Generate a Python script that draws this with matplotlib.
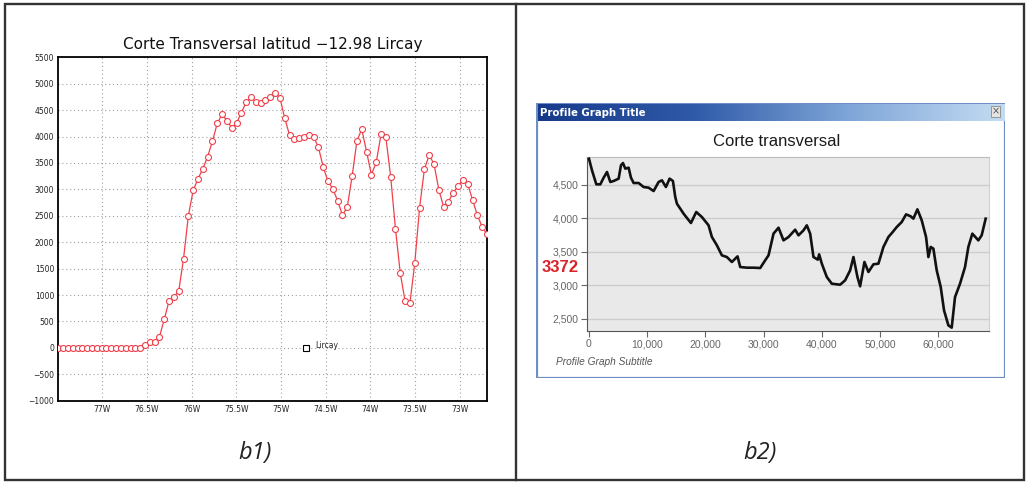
import numpy as np
import matplotlib
matplotlib.use('Agg')
import matplotlib.pyplot as plt
from matplotlib.patches import Rectangle
from matplotlib.colors import LinearSegmentedColormap

# ---------------- data ----------------
# Left panel (b1): cross-section at latitude -12.98, regular longitude grid
lon_start, lon_end, n_pts = -77.493, -72.694, 90
elev_b1 = [0] * 18 + [
    55, 120, 120, 210, 540, 890, 970, 1070, 1690, 2500,
    2980, 3200, 3390, 3620, 3910, 4250, 4420, 4300, 4170, 4250,
    4450, 4650, 4740, 4660, 4630, 4690, 4755, 4825, 4735, 4350,
    4030, 3950, 3980, 3990, 4020, 3990, 3800, 3420, 3150, 3010,
    2780, 2510, 2670, 3250, 3920, 4140, 3710, 3280, 3510, 4040,
    3990, 3240, 2250, 1410, 880, 850, 1600, 2650, 3380, 3650,
    3480, 2990, 2670, 2770, 2940, 3060, 3180, 3100, 2800, 2510,
    2290, 2150]
lon_ticks = [-77, -76.5, -76, -75.5, -75, -74.5, -74, -73.5, -73]
lon_labels = ['77W', '76.5W', '76W', '75.5W', '75W', '74.5W', '74W', '73.5W', '73W']
elev_ticks = list(range(-1000, 5501, 500))
lircay_b1 = (-74.72, 0)

# Right panel (b2): profile graph, distance (m) vs elevation (m)
dist_b2 = [0, 515, 1258, 1945, 2517, 3089, 3661, 4233, 5091, 5491, 5834, 6234, 6806,
           7207, 7665, 8523, 9381, 10239, 11097, 11955, 12527, 13214, 13843, 14415,
           14816, 15102, 16246, 17505, 18420, 19392, 20536, 21108, 21966, 22824,
           23682, 24540, 25513, 25971, 27115, 28259, 29403, 30261, 30833, 31691,
           32549, 33407, 34265, 35409, 35981, 36839, 37411, 37983, 38555, 39299,
           39528, 39985, 40843, 41701, 43131, 43989, 44847, 45419, 46105, 46563,
           47307, 47993, 48851, 49709, 50567, 51425, 52169, 52855, 53713, 54457,
           55258, 55716, 56402, 57146, 57889, 58290, 58690, 59148, 59720, 60406,
           60978, 61722, 62294, 62866, 63724, 64582, 65154, 65840, 66870, 67442, 68128]
elev_b2 = [4888, 4714, 4505, 4505, 4604, 4689, 4540, 4555, 4590, 4789, 4823, 4739, 4754,
           4604, 4525, 4525, 4465, 4455, 4405, 4540, 4565, 4465, 4590, 4555,
           4316, 4216, 4067, 3928, 4092, 4017, 3893, 3719, 3595, 3445,
           3420, 3346, 3430, 3271, 3261, 3261, 3256, 3371, 3445, 3769,
           3858, 3669, 3719, 3828, 3744, 3818, 3893, 3769, 3420, 3381,
           3460, 3321, 3122, 3022, 3007, 3072, 3221, 3420, 3122, 2983,
           3346, 3197, 3311, 3321, 3570, 3719, 3794, 3868, 3943, 4057,
           4027, 3993, 4132, 3968, 3719, 3420, 3570, 3545, 3221, 2973,
           2624, 2400, 2366, 2823, 3022, 3271, 3570, 3769, 3669, 3744, 3993]
dist_ticks = [0, 10000, 20000, 30000, 40000, 50000, 60000]
dist_labels = ['0', '10,000', '20,000', '30,000', '40,000', '50,000', '60,000']
elev2_ticks = [2500, 3000, 3500, 4000, 4500]
elev2_labels = ['2,500', '3,000', '3,500', '4,000', '4,500']

# ---------------- figure ----------------
W, H = 1028, 482
fig = plt.figure(figsize=(W / 100, H / 100), dpi=100)
fig.patch.set_facecolor('white')


def px_axes(x0, y0, x1, y1, **kw):
    return fig.add_axes([x0 / W, 1 - y1 / H, (x1 - x0) / W, (y1 - y0) / H], **kw)


bg = px_axes(0, 0, W, H)
bg.set_xlim(0, W)
bg.set_ylim(H, 0)
bg.axis('off')
frame_col = '#333333'
bg.add_patch(Rectangle((5, 4), 1019, 476, fill=False, ec=frame_col, lw=1.7))
bg.plot([516, 516], [4, 480], color=frame_col, lw=1.7)
bg.text(255, 453, 'b1)', fontsize=17, style='italic', family='Open Sans',
        color='#222222', ha='center', va='center')
bg.text(760, 453, 'b2)', fontsize=17, style='italic', family='Open Sans',
        color='#222222', ha='center', va='center')
bg.text(273, 44, 'Corte Transversal latitud \u221212.98 Lircay', fontsize=11,
        ha='center', va='center', color='#111111')

# ---- left panel ----
red = '#f0404a'
lon = np.linspace(lon_start, lon_end, n_pts)
ax1 = px_axes(58.3, 57.3, 487, 400.7)
ax1.plot(lon, elev_b1, color=red, lw=0.9, marker='o', ms=4.3, mfc='white',
         mec=red, mew=0.8, zorder=3)
ax1.plot(*lircay_b1, marker='s', ms=4.5, mfc='white', mec='black', mew=0.8, zorder=4)
ax1.text(lircay_b1[0] + 0.1, lircay_b1[1] + 40, 'Lircay', fontsize=5.5, va='center',
         ha='left', color='#222222')
ax1.set_xlim(lon_start, lon_end)
ax1.set_ylim(-1000, 5500)
ax1.set_xticks(lon_ticks)
ax1.set_xticklabels(lon_labels)
ax1.set_yticks(elev_ticks)
ax1.tick_params(labelsize=5.5, length=0, pad=3, colors='#222222')
ax1.grid(True, color='#a0a0a0', linestyle=(0, (1, 2.5)), lw=0.8)
for s in ax1.spines.values():
    s.set_color('black')
    s.set_linewidth(1.3)

# ---- right panel: window ----
win = px_axes(536, 103, 1005, 378)
win.set_xlim(536, 1005)
win.set_ylim(378, 103)
win.axis('off')
win.add_patch(Rectangle((536.5, 103.5), 468, 274, fc='white', ec='#6d8fc4', lw=1.6, zorder=1))
cmap = LinearSegmentedColormap.from_list('tb', ['#163a8a', '#2f5aa8', '#7fa6d8', '#c4dcf2'])
grad = np.linspace(0, 1, 256).reshape(1, -1)
win.imshow(grad, cmap=cmap, extent=(537.5, 1004, 121, 104), aspect='auto', zorder=2)
win.text(540, 112.5, 'Profile Graph Title', color='white', fontsize=7.3,
         fontweight='bold', family='DejaVu Sans', va='center', ha='left', zorder=3)
win.add_patch(Rectangle((991, 106), 9, 11, fc='#e4e4e4', ec='#8a8a8a', lw=0.6, zorder=3))
win.text(995.5, 111.5, '\u00d7', fontsize=7, ha='center', va='center', color='#555555', zorder=4)
win.text(777, 142, 'Corte transversal', fontsize=12, family='Liberation Sans',
         ha='center', va='center', color='#1a1a1a')
win.text(556, 362, 'Profile Graph Subtitle', fontsize=7.3, style='italic',
         family='Liberation Sans', color='#555555', ha='left', va='center')

ax2 = px_axes(587, 157, 989, 331)
ax2.set_facecolor('#e9e9e9')
ax2.plot(dist_b2, elev_b2, color='#111111', lw=1.9, zorder=3)
ax2.set_xlim(-343, 68700)
ax2.set_ylim(2316, 4913)
ax2.set_xticks(dist_ticks)
ax2.set_xticklabels(dist_labels)
ax2.set_yticks(elev2_ticks)
ax2.set_yticklabels(elev2_labels)
ax2.tick_params(labelsize=7.5, length=4, width=0.8, color='#666666',
                labelcolor='#666666', pad=2)
for lab in ax2.get_xticklabels() + ax2.get_yticklabels():
    lab.set_family('Liberation Sans')
ax2.grid(True, axis='y', color='#cdcdcd', lw=1.0)
ax2.set_axisbelow(True)
ax2.spines['left'].set_color('#555555')
ax2.spines['bottom'].set_color('#555555')
ax2.spines['top'].set_color('#bdbdbd')
ax2.spines['right'].set_color('#d0d0d0')
ax2.text(-0.068, 0.366, '3372', transform=ax2.transAxes, fontsize=12,
         fontweight='bold', color='#d8232a', family='Liberation Sans',
         ha='center', va='center')
bg.text(745, 280, 'Lircay', fontsize=13, fontweight='bold', color='#3a62a6',
        family='Liberation Sans', ha='center', va='center', zorder=10)

fig.savefig('out.png', dpi=100, facecolor='white')
